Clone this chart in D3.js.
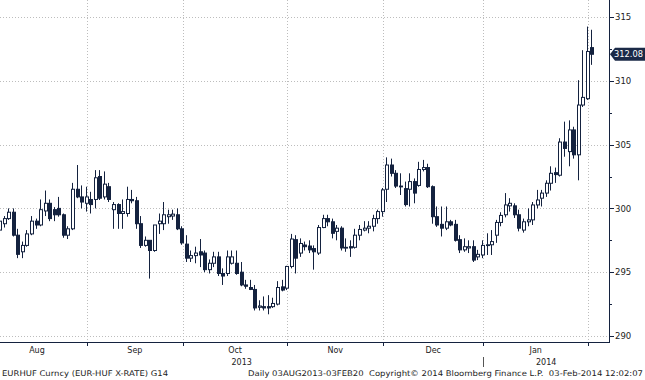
<!DOCTYPE html>
<html><head><meta charset="utf-8">
<script src="https://cdn.jsdelivr.net/npm/d3@7"></script>
<style>
body{margin:0;background:#fff}
svg{display:block}
text{font-family:"DejaVu Sans",sans-serif;fill:#222}
</style>
</head><body>
<svg id="chart" width="645" height="380"></svg>
<script>
// ---- data (EURHUF daily, 05 Aug 2013 – 03 Feb 2014, weekdays) ----
const startDate = "2013-08-05";
const endDate = "2014-02-03";
const open = [298.3,298.8,299.2,299.7,297.9,296.6,297.1,298.0,299.0,298.7,
299.8,300.4,299.9,300.0,299.5,297.9,298.4,301.5,300.9,300.4,
300.7,300.7,302.5,300.9,301.7,299.9,300.3,299.6,299.6,300.7,
300.6,298.8,297.1,297.5,296.7,298.8,298.8,299.35,299.4,299.5,
298.4,297.2,296.1,296.3,296.6,296.5,295.2,295.7,296.2,294.9,
294.9,295.7,295.7,295.0,294.0,293.8,293.65,292.25,292.3,292.3,
292.3,292.5,293.85,293.75,295.45,297.55,296.5,297.13,297.05,296.85,
296.5,298.5,299.2,298.95,298.2,298.45,296.9,297.0,296.95,297.9,
298.3,298.45,298.6,299.2,299.75,301.5,303.4,302.75,301.75,301.55,
301.5,302.1,301.8,303.05,303.2,301.7,299.35,298.75,298.45,298.95,
298.75,297.55,296.75,296.9,297.0,296.2,296.35,297.1,297.15,297.9,
298.9,299.5,300.2,300.2,299.5,298.3,298.95,299.1,300.27,300.8,
301.2,301.97,302.8,302.6,305.2,304.45,306.15,304.2,308.1,308.6,
312.6];
const high = [299.2,299.4,300.0,300.0,298.4,297.4,298.3,299.4,299.2,300.7,
301.4,300.7,300.1,300.9,299.6,298.6,302.0,303.4,301.8,301.7,
301.3,303.0,303.0,302.9,302.0,300.5,300.4,300.7,301.7,301.45,
300.9,299.4,297.8,297.5,298.7,299.6,300.5,299.9,299.9,300.0,
298.6,297.9,296.7,297.0,297.6,296.7,296.0,296.6,296.6,295.3,
296.7,296.7,296.7,295.8,294.4,294.4,294.0,292.8,293.1,293.2,
293.0,294.3,294.4,295.5,298.0,297.9,297.65,297.4,297.5,297.1,
298.7,299.5,299.5,299.2,298.7,298.6,297.65,297.5,298.4,298.7,
299.0,299.0,299.5,299.9,301.6,304.0,303.9,303.0,302.75,302.1,
302.75,302.35,303.65,303.8,303.5,301.8,300.15,300.15,300.15,299.1,
299.1,297.9,297.65,297.5,297.5,296.75,297.5,298.05,298.3,299.1,
299.7,301.2,300.8,300.4,299.9,299.2,300.0,300.5,301.45,301.45,
302.2,303.3,303.2,305.5,306.8,306.9,306.4,310.05,312.4,314.25,
314.0];
const low = [297.9,298.5,299.1,297.8,296.1,296.1,297.0,297.9,298.4,298.6,
299.4,299.0,299.0,299.35,297.7,297.6,298.3,300.8,300.0,299.75,
299.6,300.0,300.66,300.7,300.5,298.4,298.4,298.4,299.35,300.4,
298.4,296.9,297.0,294.5,296.6,298.0,298.3,298.8,299.1,298.3,
297.15,295.8,295.8,295.7,295.4,295.0,294.9,295.4,294.7,294.0,
294.7,295.6,294.8,293.9,293.7,293.6,292.0,292.0,292.0,291.7,
292.2,292.4,293.5,293.6,295.3,294.9,296.2,296.7,296.5,295.2,
296.35,298.45,298.6,297.65,297.5,296.7,296.6,296.2,296.85,297.5,
298.2,298.05,298.2,298.8,299.35,300.5,302.5,301.6,301.05,300.15,
300.15,300.4,301.7,302.9,301.6,298.8,298.55,297.8,298.3,298.6,
297.4,296.5,296.6,296.5,295.8,295.95,296.1,296.35,296.35,297.3,
298.6,299.3,299.75,299.25,298.2,298.1,298.6,298.7,300.0,300.15,
300.9,301.4,302.0,302.5,304.05,303.3,303.9,302.2,307.95,308.5,
311.25];
const close = [299.0,299.2,299.7,297.9,296.4,297.1,298.0,299.0,298.7,299.9,
300.4,299.2,299.5,299.5,297.9,298.4,301.5,300.9,300.5,300.9,
300.3,302.4,300.8,301.9,300.7,300.3,299.6,299.75,300.7,300.6,
298.8,297.1,297.5,296.7,298.7,299.0,299.5,299.5,299.55,298.4,
297.3,296.1,296.3,296.5,296.35,295.2,295.7,296.2,294.9,294.7,
296.2,296.2,294.9,294.0,293.9,293.65,292.2,292.35,292.2,292.2,
292.55,293.8,293.6,295.45,297.6,296.1,297.25,297.0,296.75,296.6,
298.5,299.2,298.95,298.05,298.45,296.9,296.95,296.9,297.9,298.35,
298.45,298.6,299.2,299.75,301.45,303.4,302.75,301.75,301.7,300.3,
302.1,301.2,303.05,303.2,301.7,299.35,298.7,298.45,298.95,298.7,
297.5,296.75,297.0,297.0,295.95,296.4,297.1,297.15,297.4,298.9,
299.45,300.27,300.4,299.5,298.45,298.95,299.1,300.27,300.66,301.2,
301.97,302.75,302.65,305.2,304.7,306.15,304.2,308.1,308.7,312.3,
312.08];
const yTicks = [290, 295, 300, 305, 310, 315];
const yMinorTicks = [292.5, 297.5, 302.5, 307.5, 312.5];
const monthLabels = ["Aug", "Sep", "Oct", "Nov", "Dec", "Jan"];
const yearLabels = ["2013", "2014"];
const footerLeft = "EURHUF Curncy (EUR-HUF X-RATE) G14";
const footerRight = "Daily 03AUG2013-03FEB20  Copyright\u00A9 2014 Bloomberg Finance L.P.  03-Feb-2014 12:02:07";

// ---- setup ----
const W = 645, H = 380;
const plotRight = 609, plotBottom = 342;
const navy = "#14223f";
const gridColor = "#bdbdbd";
const svg = d3.select("#chart");

const parse = d3.utcParse("%Y-%m-%d");
const isWeekday = d => d.getUTCDay() % 6 !== 0;
const t0 = parse(startDate), t1 = parse(endDate);
const days = d3.utcDay.range(t0, d3.utcDay.offset(t1, 1)).filter(isWeekday);
function wIdx(d) {
  if (d >= t0) return d3.utcDay.range(t0, d).filter(isWeekday).length;
  return -d3.utcDay.range(d, t0).filter(isWeekday).length;
}
const n = days.length;
const x = d3.scaleLinear().domain([0, n - 1]).range([0.15, 592.3]);
const y = d3.scaleLinear().domain([290, 315]).range([336, 17]);

// month boundaries
const months = d3.utcMonth.range(d3.utcMonth.floor(t0), d3.utcMonth.offset(d3.utcMonth.floor(t1), 1));
function firstWeekday(m) { let d = m; while (!isWeekday(d)) d = d3.utcDay.offset(d, 1); return d; }
const monthStartX = months.map(m => x(wIdx(firstWeekday(m)) - 0.92));
const nextMonth = d3.utcMonth.offset(months[months.length - 1], 1);
const monthEndX = x(wIdx(firstWeekday(nextMonth)) - 0.92);

// ---- gridlines ----
const grid = svg.append("g");
grid.selectAll("line.h").data(yTicks).join("line")
  .attr("x1", 0).attr("x2", plotRight)
  .attr("y1", d => Math.round(y(d)) + 0.5).attr("y2", d => Math.round(y(d)) + 0.5)
  .attr("stroke", gridColor).attr("stroke-dasharray", "1,2");
const vGrid = monthStartX.filter(v => v > 0 && v < plotRight);
grid.selectAll("line.v").data(vGrid).join("line")
  .attr("x1", d => Math.round(d) + 0.5).attr("x2", d => Math.round(d) + 0.5)
  .attr("y1", 0).attr("y2", plotBottom)
  .attr("stroke", gridColor).attr("stroke-dasharray", "1,2");

// ---- candles ----
const idx = d3.range(n);
const cg = svg.append("g");
const cx = i => Math.round(x(i));
cg.selectAll("line.wick").data(idx).join("line")
  .attr("x1", i => cx(i) - 0.5).attr("x2", i => cx(i) - 0.5)
  .attr("y1", i => y(high[i])).attr("y2", i => y(low[i]))
  .attr("stroke", navy).attr("stroke-width", 1);
cg.selectAll("rect.body").data(idx).join("rect")
  .attr("x", i => cx(i) - 1.5)
  .attr("width", 3)
  .attr("y", i => y(Math.max(open[i], close[i])))
  .attr("height", i => Math.max(0.8, Math.abs(y(open[i]) - y(close[i]))))
  .attr("fill", i => close[i] >= open[i] ? "#fff" : navy)
  .attr("stroke", navy).attr("stroke-width", 1);

// ---- axes ----
const ax = svg.append("g");
ax.append("line").attr("x1", plotRight + 0.5).attr("x2", plotRight + 0.5)
  .attr("y1", 0).attr("y2", plotBottom + 1).attr("stroke", navy);
ax.append("line").attr("x1", 0).attr("x2", plotRight + 1)
  .attr("y1", plotBottom + 0.5).attr("y2", plotBottom + 0.5).attr("stroke", navy);
ax.selectAll("line.maj").data(yTicks).join("line")
  .attr("x1", plotRight).attr("x2", plotRight + 5)
  .attr("y1", d => Math.round(y(d)) + 0.5).attr("y2", d => Math.round(y(d)) + 0.5)
  .attr("stroke", navy);
ax.selectAll("line.min").data(yMinorTicks).join("line")
  .attr("x1", plotRight).attr("x2", plotRight + 3)
  .attr("y1", d => Math.round(y(d)) + 0.5).attr("y2", d => Math.round(y(d)) + 0.5)
  .attr("stroke", navy);
ax.selectAll("text.yl").data(yTicks).join("text")
  .attr("x", plotRight + 6).attr("y", d => y(d) + 3.2)
  .attr("font-size", 8.5).text(d => d);

// month ticks
ax.selectAll("line.mt").data(vGrid).join("line")
  .attr("x1", d => Math.round(d) + 0.5).attr("x2", d => Math.round(d) + 0.5)
  .attr("y1", plotBottom).attr("y2", plotBottom + 4).attr("stroke", navy);
// month labels
const monthCenters = monthLabels.map((m, k) => {
  const a = monthStartX[k], b = k + 1 < monthStartX.length ? monthStartX[k + 1] : monthEndX;
  return (a + b) / 2;
});
ax.selectAll("text.ml").data(monthLabels).join("text")
  .attr("x", (d, k) => monthCenters[k]).attr("y", 352.5)
  .attr("text-anchor", "middle").attr("font-size", 8).text(d => d);
// years
const janX = monthStartX[months.findIndex(m => m.getUTCMonth() === 0)];
const yearCenters = [(0 + janX) / 2, (janX + plotRight) / 2];
ax.selectAll("text.yr").data(yearLabels).join("text")
  .attr("x", (d, k) => yearCenters[k]).attr("y", 365)
  .attr("text-anchor", "middle").attr("font-size", 8).text(d => d);
ax.append("line").attr("x1", Math.round(janX) + 0.5).attr("x2", Math.round(janX) + 0.5)
  .attr("y1", 357).attr("y2", 367).attr("stroke", "#555");

// footer
svg.append("text").attr("x", 2).attr("y", 375.5).attr("font-size", 7.8)
  .attr("textLength", 166).attr("lengthAdjust", "spacingAndGlyphs").text(footerLeft);
svg.append("text").attr("x", 248).attr("y", 375.5).attr("font-size", 7.8)
  .style("white-space", "pre")
  .attr("textLength", 395).attr("lengthAdjust", "spacingAndGlyphs").text(footerRight);

// last price tag
const last = close[n - 1];
const ly = y(last);
svg.append("path")
  .attr("d", `M${plotRight + 1},${ly} L${plotRight + 6},${ly - 6.5} L${W},${ly - 6.5} L${W},${ly + 6.5} L${plotRight + 6},${ly + 6.5} Z`)
  .attr("fill", "#1b2a47");
svg.append("text").attr("x", 614).attr("y", ly + 3.2).attr("font-size", 8.5)
  .attr("textLength", 29).attr("lengthAdjust", "spacingAndGlyphs")
  .style("fill", "#fff").text(d3.format(".2f")(last));
</script>
</body></html>
